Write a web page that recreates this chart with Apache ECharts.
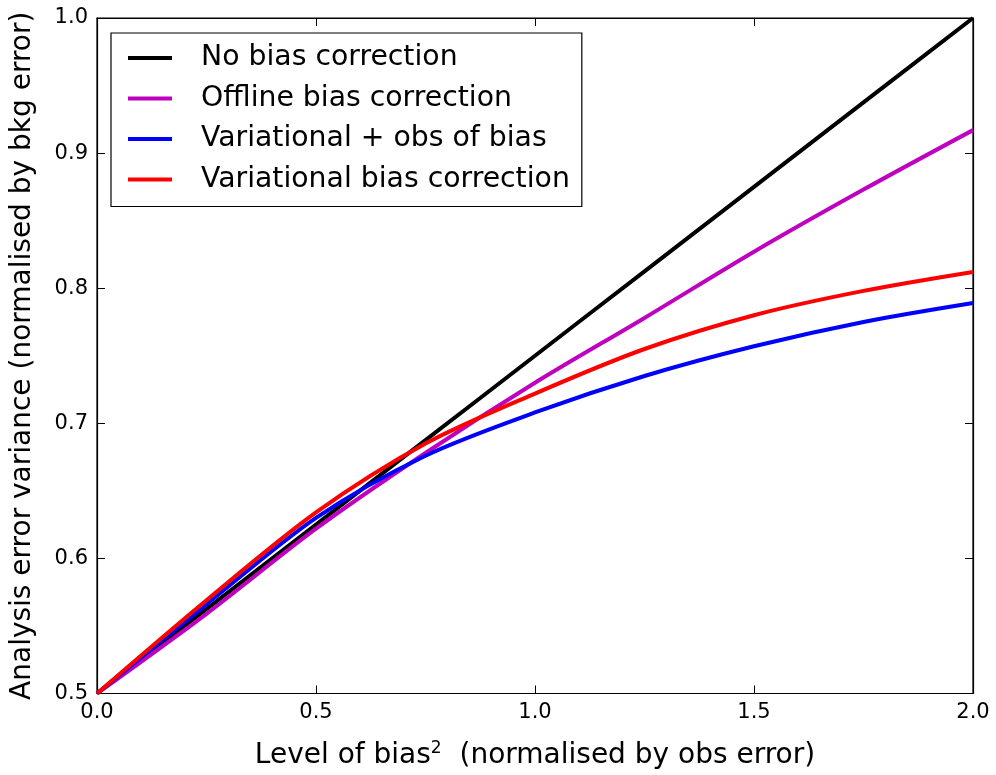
<!DOCTYPE html>
<html>
<head>
<meta charset="utf-8">
<title>Analysis error variance vs level of bias</title>
<script src="https://cdn.jsdelivr.net/npm/echarts@6/dist/echarts.min.js"></script>
<style>
  html, body { margin: 0; padding: 0; background: #ffffff; }
  #chart { width: 996px; height: 775px; }
</style>
</head>
<body>
<div id="chart"></div>
<script>
// Level of bias^2 (normalised by obs error)
const biasLevels = [0, 0.25, 0.5, 0.75, 1.0, 1.25, 1.5, 1.75, 2.0];

// Analysis error variance (normalised by bkg error) for each scheme
const noBiasCorrection      = [0.5, 0.5625, 0.625, 0.6875, 0.75, 0.8125, 0.875, 0.9375, 1.0];
const offlineBiasCorrection = [0.5, 0.559, 0.622, 0.678, 0.730, 0.778, 0.827, 0.873, 0.917];
const varPlusObsOfBias      = [0.5, 0.566, 0.630, 0.676, 0.708, 0.735, 0.757, 0.775, 0.789];
const varBiasCorrection     = [0.5, 0.569, 0.634, 0.685, 0.722, 0.755, 0.780, 0.798, 0.812];

const seriesNames = [
  'No bias correction',
  'Offline bias correction',
  'Variational + obs of bias',
  'Variational bias correction'
];
const seriesColors = ['#000000', '#bf00bf', '#0000ff', '#ff0000'];
const seriesValues = [noBiasCorrection, offlineBiasCorrection, varPlusObsOfBias, varBiasCorrection];

// Axis ranges and ticks
const xMin = 0, xMax = 2, xStep = 0.5;
const yMin = 0.5, yMax = 1.0, yStep = 0.1;

const FONT = 'DejaVu Sans';

function pairs(values) {
  return biasLevels.map((x, i) => [x, values[i]]);
}

const chart = echarts.init(document.getElementById('chart'), null, { renderer: 'canvas' });

const tickStyle = { show: true, inside: true, length: 8, lineStyle: { color: '#000', width: 1 } };
const lineStyleAxis = { show: true, onZero: false, lineStyle: { color: '#000', width: 1.2 } };
const labelStyle = { fontFamily: FONT, fontSize: 21, color: '#000' };

const option = {
  backgroundColor: '#ffffff',
  animation: false,
  grid: {
    left: 97, right: 23, top: 18, bottom: 78,
    show: true, borderColor: '#000', borderWidth: 1.2, backgroundColor: 'transparent'
  },
  legend: {
    orient: 'vertical',
    left: 111, top: 33,
    data: seriesNames,
    icon: 'rect',
    itemWidth: 44,
    itemHeight: 4,
    itemGap: 12.5,
    padding: [11, 12, 13, 17],
    borderColor: '#000',
    borderWidth: 1.2,
    backgroundColor: '#ffffff',
    textStyle: { fontFamily: FONT, fontSize: 28.3, color: '#000', lineHeight: 28, padding: [0, 0, 0, 24] }
  },
  xAxis: [
    {
      type: 'value', position: 'bottom',
      min: xMin, max: xMax, interval: xStep,
      axisLine: lineStyleAxis, axisTick: tickStyle, splitLine: { show: false },
      axisLabel: Object.assign({ margin: 9, formatter: v => v.toFixed(1) }, labelStyle),
      name: 'Level of bias{sup|2}  (normalised by obs error)',
      nameLocation: 'middle', nameGap: 47,
      nameTextStyle: {
        fontFamily: FONT, fontSize: 28, color: '#000',
        rich: { sup: { fontFamily: FONT, fontSize: 17, color: '#000', padding: [0, 0, 14, 0] } }
      }
    },
    {
      type: 'value', position: 'top',
      min: xMin, max: xMax, interval: xStep,
      axisLine: lineStyleAxis, axisTick: tickStyle, splitLine: { show: false },
      axisLabel: { show: false }
    }
  ],
  yAxis: [
    {
      type: 'value', position: 'left',
      min: yMin, max: yMax, interval: yStep,
      axisLine: lineStyleAxis, axisTick: tickStyle, splitLine: { show: false },
      axisLabel: Object.assign({ margin: 9, formatter: v => v.toFixed(1) }, labelStyle),
      name: 'Analysis error variance (normalised by bkg error)',
      nameLocation: 'middle', nameGap: 60,
      nameTextStyle: { fontFamily: FONT, fontSize: 28, color: '#000' }
    },
    {
      type: 'value', position: 'right',
      min: yMin, max: yMax, interval: yStep,
      axisLine: lineStyleAxis, axisTick: tickStyle, splitLine: { show: false },
      axisLabel: { show: false }
    }
  ],
  series: seriesNames.map((name, i) => ({
    name: name,
    type: 'line',
    xAxisIndex: 0,
    yAxisIndex: 0,
    data: pairs(seriesValues[i]),
    smooth: 0.3,
    showSymbol: false,
    symbol: 'none',
    clip: true,
    color: seriesColors[i],
    lineStyle: { color: seriesColors[i], width: 4 },
    z: 2 + i
  }))
};

chart.setOption(option);
</script>
</body>
</html>
